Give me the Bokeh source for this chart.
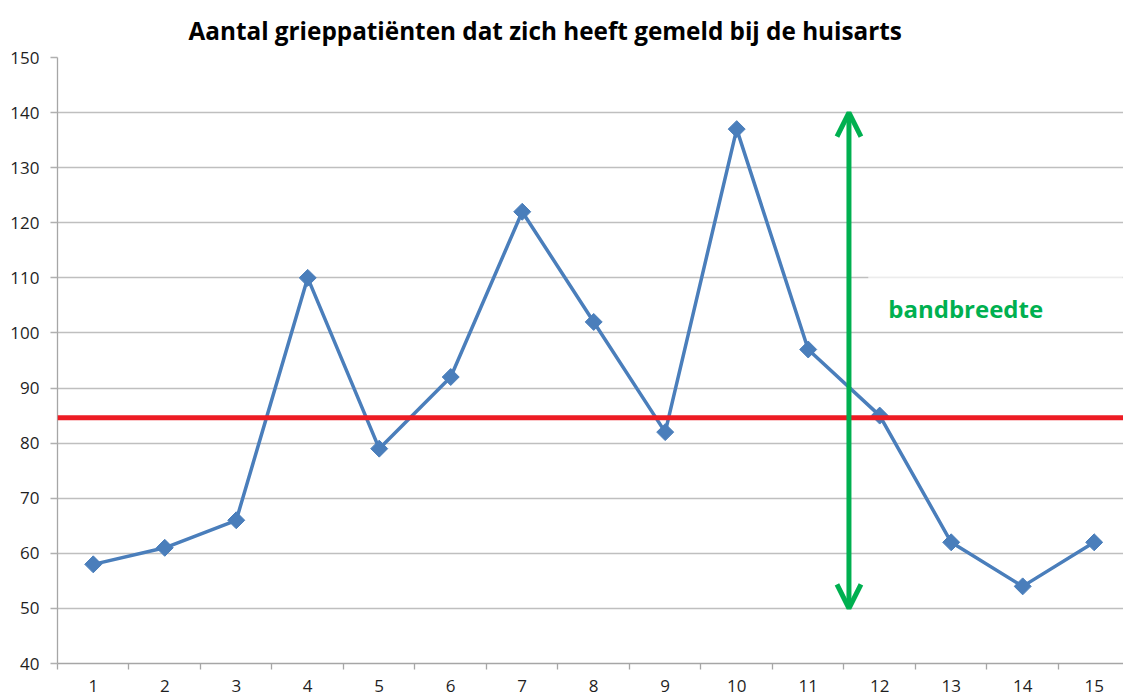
import numpy as np
from bokeh.plotting import figure
from bokeh.models import FixedTicker, Span, Arrow, OpenHead, Label, BoxAnnotation, Range1d
from bokeh.embed import file_html
from bokeh.resources import INLINE

# ---- data ----
weeks = list(range(1, 16))
patients = [58, 61, 66, 110, 79, 92, 122, 102, 82, 137, 97, 85, 62, 54, 62]
average_line = 84.6
band_x = 11.57
band_low = 50
band_high = 140
y_ticks = list(range(40, 151, 10))
title_text = "Aantal grieppatiënten dat zich heeft gemeld bij de huisarts"
band_label = "bandbreedte"

BLUE = "#4a7ebb"
RED = "#ed1c24"
GREEN = "#00b050"
FONT = "Open Sans"

W, H = 1123, 698
p = figure(width=W, height=H, output_backend="svg", toolbar_location=None,
           x_range=Range1d(0.5, 15.41), y_range=Range1d(40, 150),
           min_border_left=57, min_border_right=0, min_border_top=56,
           min_border_bottom=35, title=title_text)
p.background_fill_color = "white"
p.border_fill_color = "white"
p.outline_line_color = None

p.title.text_font = FONT
p.title.text_font_size = "24.3px"
p.title.text_font_style = "bold"
p.title.text_color = "black"
p.title.align = "left"
p.title.offset = 131
p.title.standoff = 22

# axes
p.xaxis.ticker = FixedTicker(ticks=weeks, minor_ticks=[w + 0.5 for w in [0] + weeks])
p.xaxis.major_tick_line_color = None
p.xaxis.major_tick_out = 6
p.xaxis.major_tick_in = 0
p.xaxis.minor_tick_out = 6
p.xaxis.minor_tick_in = 0
p.xaxis.minor_tick_line_color = "#a6a6a6"
p.xaxis.minor_tick_line_width = 1.3
p.xaxis.major_label_standoff = 10

p.yaxis.ticker = FixedTicker(ticks=y_ticks)
p.yaxis.major_tick_out = 7
p.yaxis.major_tick_in = 0
p.yaxis.minor_tick_line_color = None
p.yaxis.major_tick_line_color = "#b0b0b0"
p.yaxis.major_tick_line_width = 1.3
p.yaxis.major_label_standoff = 11

for ax in (p.xaxis, p.yaxis):
    ax.axis_line_color = "#a6a6a6"
    ax.axis_line_width = 1.3
    ax.major_label_text_font = FONT
    ax.major_label_text_font_size = "17px"
    ax.major_label_text_color = "#1f1f1f"

p.xgrid.visible = False
p.ygrid.grid_line_color = "#bfbfbf"
p.ygrid.grid_line_width = 1.3

# series
p.line(weeks, patients, line_color=BLUE, line_width=3.5)
p.scatter(weeks, patients, marker="square", angle=np.pi / 4, size=12,
          fill_color=BLUE, line_color=BLUE)

# white text-box patch over the 110 gridline
p.add_layout(BoxAnnotation(left=11.84, right=15.4, bottom=101, top=110.3,
                           fill_color="white", fill_alpha=0.7, line_color=None))

# average line
p.add_layout(Span(location=average_line, dimension="width",
                  line_color=RED, line_width=5))

# band arrow
p.add_layout(Arrow(x_start=band_x, y_start=band_low, x_end=band_x, y_end=band_high,
                   line_color=GREEN, line_width=5,
                   start=OpenHead(size=24, line_color=GREEN, line_width=5),
                   end=OpenHead(size=24, line_color=GREEN, line_width=5)))

p.add_layout(Label(x=12.12, y=104.5, text=band_label, text_color=GREEN,
                   text_font=FONT, text_font_style="bold", text_font_size="24px",
                   text_baseline="middle", text_align="left"))

open("out.html", "w").write(file_html(p, INLINE))
